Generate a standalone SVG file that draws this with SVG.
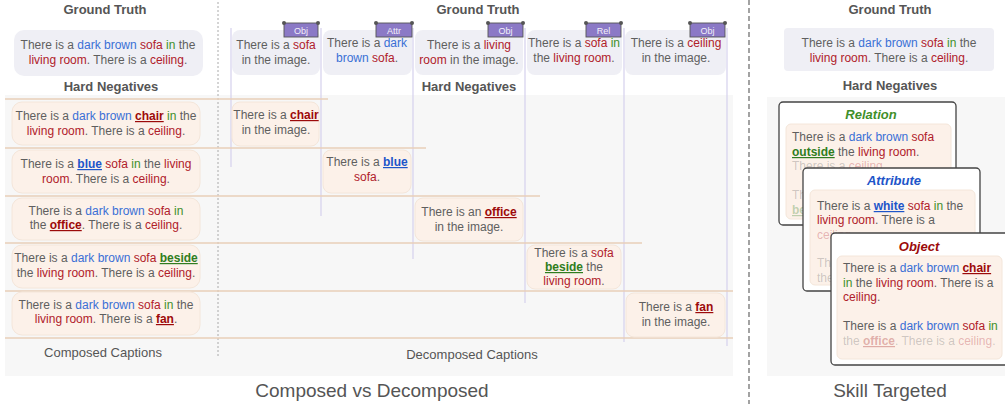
<svg xmlns="http://www.w3.org/2000/svg" width="1005" height="404" viewBox="0 0 1005 404">
<style>
.t{font-family:"Liberation Sans",Arial,sans-serif;font-size:12px;fill:#5f5f5f}
.c{text-anchor:middle}
.h{font-family:"Liberation Sans",Arial,sans-serif;font-size:13px;font-weight:bold;fill:#555;text-anchor:middle}
.lbl{font-family:"Liberation Sans",Arial,sans-serif;font-size:13px;fill:#555;text-anchor:middle}
.big{font-family:"Liberation Sans",Arial,sans-serif;font-size:19px;fill:#555;text-anchor:middle}
.b{fill:#3a6fd6}
.r{fill:#b0202a}
.g{fill:#3f8f2a}
.ur{fill:#9c0a0a;font-weight:bold;text-decoration:underline}
.ub{fill:#1d55c9;font-weight:bold;text-decoration:underline}
.ug{fill:#2f7d20;font-weight:bold;text-decoration:underline}
.fade{fill-opacity:0.3}
.gt{fill:#efeff5}
.hn{fill:#fcf1e9;stroke:#f4e6da;stroke-width:1}
.vl{stroke:#d8d4ee;stroke-width:1.3}
.hl{stroke:#e8cfb8;stroke-width:1.3}
.tag rect{fill:#8b79c6;stroke:#555;stroke-width:0.9}
.tag circle{fill:#555}
.tag text{font-family:"Liberation Sans",Arial,sans-serif;font-size:9px;fill:#f2f0fa;text-anchor:middle}
.card{fill:#fff;stroke:#444;stroke-width:1.3}
.ti{font-family:"Liberation Sans",Arial,sans-serif;font-size:13px;font-weight:bold;font-style:italic;text-anchor:middle}
</style>

<!-- backgrounds -->
<rect x="5" y="95" width="728" height="281" fill="#f7f7f7"/>
<rect x="767" y="97" width="238" height="279" fill="#f7f7f7"/>
<line x1="218" y1="2" x2="218" y2="358" stroke="#aaa" stroke-width="1" stroke-dasharray="2,2"/>
<line x1="749" y1="0" x2="749" y2="404" stroke="#666" stroke-width="1.2" stroke-dasharray="5,3"/>

<!-- connectors / grid lines -->
<g id="connectors">
<line class="vl" x1="231" y1="28" x2="231" y2="167"/>
<line class="vl" x1="321" y1="28" x2="321" y2="216"/>
<line class="vl" x1="413" y1="28" x2="413" y2="259"/>
<line class="vl" x1="525" y1="28" x2="525" y2="303"/>
<line class="vl" x1="624" y1="28" x2="624" y2="342"/>
<line class="vl" x1="727" y1="28" x2="727" y2="346"/>
<line class="hl" x1="5" y1="99" x2="328" y2="99"/>
<line class="hl" x1="5" y1="148" x2="426" y2="148"/>
<line class="hl" x1="5" y1="196" x2="540" y2="196"/>
<line class="hl" x1="5" y1="243" x2="642" y2="243"/>
<line class="hl" x1="5" y1="291" x2="733" y2="291"/>
<line class="hl" x1="5" y1="338" x2="733" y2="338"/>
</g>

<!-- Composed captions -->
<text class="h" x="105" y="14">Ground Truth</text>
<g id="composed-gt">
<rect class="gt" x="14" y="30" width="189" height="46" rx="10"/>
<text class="t c" x="108" y="49">There is a <tspan class="b">dark brown</tspan> <tspan class="r">sofa</tspan> <tspan class="g">in</tspan> the</text>
<text class="t c" x="108" y="64"><tspan class="r">living room</tspan>. There is a <tspan class="r">ceiling</tspan>.</text>
</g>
<text class="h" x="111" y="91">Hard Negatives</text>
<g id="composed-hn1">
<rect class="hn" x="12" y="102" width="188" height="43" rx="10"/>
<text class="t c" x="106" y="120">There is a <tspan class="b">dark brown</tspan> <tspan class="ur">chair</tspan> <tspan class="g">in</tspan> the</text>
<text class="t c" x="106" y="135"><tspan class="r">living room</tspan>. There is a <tspan class="r">ceiling</tspan>.</text>
</g>
<g id="composed-hn2">
<rect class="hn" x="12" y="150" width="188" height="43" rx="10"/>
<text class="t c" x="106" y="168">There is a <tspan class="ub">blue</tspan> <tspan class="r">sofa</tspan> <tspan class="g">in</tspan> the <tspan class="r">living</tspan></text>
<text class="t c" x="106" y="183"><tspan class="r">room</tspan>. There is a <tspan class="r">ceiling</tspan>.</text>
</g>
<g id="composed-hn3">
<rect class="hn" x="12" y="198" width="188" height="42" rx="10"/>
<text class="t c" x="106" y="215">There is a <tspan class="b">dark brown</tspan> <tspan class="r">sofa</tspan> <tspan class="g">in</tspan></text>
<text class="t c" x="106" y="229">the <tspan class="ur">office</tspan>. There is a <tspan class="r">ceiling</tspan>.</text>
</g>
<g id="composed-hn4">
<rect class="hn" x="12" y="245" width="188" height="43" rx="10"/>
<text class="t c" x="106" y="262">There is a <tspan class="b">dark brown</tspan> <tspan class="r">sofa</tspan> <tspan class="ug">beside</tspan></text>
<text class="t c" x="106" y="277">the <tspan class="r">living room</tspan>. There is a <tspan class="r">ceiling</tspan>.</text>
</g>
<g id="composed-hn5">
<rect class="hn" x="12" y="292" width="188" height="43" rx="10"/>
<text class="t c" x="106" y="309">There is a <tspan class="b">dark brown</tspan> <tspan class="r">sofa</tspan> <tspan class="g">in</tspan> the</text>
<text class="t c" x="106" y="323"><tspan class="r">living room</tspan>. There is a <tspan class="ur">fan</tspan>.</text>
</g>
<text class="lbl" x="103" y="357">Composed Captions</text>

<!-- Decomposed captions -->
<text class="h" x="478" y="14">Ground Truth</text>
<g id="dec-gt1">
<rect class="gt" x="232" y="30" width="88" height="45" rx="8"/>
<text class="t c" x="276" y="49">There is a <tspan class="r">sofa</tspan></text>
<text class="t c" x="276" y="64">in the image.</text>
</g>
<g id="dec-gt2">
<rect class="gt" x="323" y="30" width="89" height="45" rx="8"/>
<text class="t c" x="367" y="47">There is a <tspan class="b">dark</tspan></text>
<text class="t c" x="367" y="62"><tspan class="b">brown</tspan> <tspan class="r">sofa</tspan>.</text>
</g>
<g id="dec-gt3">
<rect class="gt" x="415" y="30" width="108" height="45" rx="8"/>
<text class="t c" x="469" y="49">There is a <tspan class="r">living</tspan></text>
<text class="t c" x="469" y="64"><tspan class="r">room</tspan> in the image.</text>
</g>
<g id="dec-gt4">
<rect class="gt" x="527" y="30" width="95" height="45" rx="8"/>
<text class="t c" x="574" y="47">There is a <tspan class="r">sofa</tspan> <tspan class="g">in</tspan></text>
<text class="t c" x="574" y="62">the <tspan class="r">living room</tspan>.</text>
</g>
<g id="dec-gt5">
<rect class="gt" x="625" y="30" width="101" height="45" rx="8"/>
<text class="t c" x="676" y="47">There is a <tspan class="r">ceiling</tspan></text>
<text class="t c" x="676" y="62">in the image.</text>
</g>
<g id="tag-obj1" class="tag"><rect x="284" y="23" width="34" height="14"/><circle cx="284" cy="23" r="2"/><circle cx="318" cy="23" r="2"/><text x="301" y="33.5">Obj</text></g>
<g id="tag-attr" class="tag"><rect x="376" y="23" width="36" height="14"/><circle cx="376" cy="23" r="2"/><circle cx="412" cy="23" r="2"/><text x="394" y="33.5">Attr</text></g>
<g id="tag-obj2" class="tag"><rect x="488" y="23" width="35" height="14"/><circle cx="488" cy="23" r="2"/><circle cx="523" cy="23" r="2"/><text x="505.5" y="33.5">Obj</text></g>
<g id="tag-rel" class="tag"><rect x="586" y="23" width="35" height="14"/><circle cx="586" cy="23" r="2"/><circle cx="621" cy="23" r="2"/><text x="603.5" y="33.5">Rel</text></g>
<g id="tag-obj3" class="tag"><rect x="690" y="23" width="35" height="14"/><circle cx="690" cy="23" r="2"/><circle cx="725" cy="23" r="2"/><text x="707.5" y="33.5">Obj</text></g>

<text class="h" x="469" y="91">Hard Negatives</text>
<g id="dec-hn1">
<rect class="hn" x="232" y="102" width="87" height="44" rx="8"/>
<text class="t c" x="276" y="119">There is a <tspan class="ur">chair</tspan></text>
<text class="t c" x="276" y="134">in the image.</text>
</g>
<g id="dec-hn2">
<rect class="hn" x="323" y="150" width="88" height="43" rx="8"/>
<text class="t c" x="367" y="166">There is a <tspan class="ub">blue</tspan></text>
<text class="t c" x="367" y="181"><tspan class="r">sofa</tspan>.</text>
</g>
<g id="dec-hn3">
<rect class="hn" x="415" y="198" width="108" height="43" rx="8"/>
<text class="t c" x="469" y="216">There is an <tspan class="ur">office</tspan></text>
<text class="t c" x="469" y="231">in the image.</text>
</g>
<g id="dec-hn4">
<rect class="hn" x="527" y="245" width="94" height="44" rx="8"/>
<text class="t c" x="574" y="257">There is a <tspan class="r">sofa</tspan></text>
<text class="t c" x="574" y="271"><tspan class="ug">beside</tspan> the</text>
<text class="t c" x="574" y="285"><tspan class="r">living room</tspan>.</text>
</g>
<g id="dec-hn5">
<rect class="hn" x="626" y="293" width="99" height="44" rx="8"/>
<text class="t c" x="676" y="311">There is a <tspan class="ur">fan</tspan></text>
<text class="t c" x="676" y="326">in the image.</text>
</g>
<text class="lbl" x="472" y="359">Decomposed Captions</text>
<text class="big" x="372" y="397">Composed vs Decomposed</text>

<!-- Skill targeted -->
<text class="h" x="890" y="14">Ground Truth</text>
<g id="skill-gt">
<rect class="gt" x="784" y="28" width="210" height="43" rx="4"/>
<text class="t c" x="889" y="47">There is a <tspan class="b">dark brown</tspan> <tspan class="r">sofa</tspan> <tspan class="g">in</tspan> the</text>
<text class="t c" x="889" y="62"><tspan class="r">living room</tspan>. There is a <tspan class="r">ceiling</tspan>.</text>
</g>
<text class="h" x="890" y="90">Hard Negatives</text>
<g id="card-relation">
<rect class="card" x="779" y="102" width="177" height="123" rx="4"/>
<text class="ti" x="871" y="119" fill="#3f8f2a">Relation</text>
<rect class="hn" x="786" y="124" width="165" height="95" rx="5"/>
<text class="t" x="792" y="141">There is a <tspan class="b">dark brown</tspan> <tspan class="r">sofa</tspan></text>
<text class="t" x="792" y="156"><tspan class="ug">outside</tspan> the <tspan class="r">living room</tspan>.</text>
<text class="t fade" x="792" y="170">There is a <tspan class="r">ceiling</tspan>.</text>
<text class="t fade" x="792" y="199">Th</text>
<text class="t fade" x="792" y="214"><tspan class="ug">be</tspan></text>
</g>
<g id="card-attribute">
<rect class="card" x="803" y="168" width="177" height="123" rx="4"/>
<text class="ti" x="894" y="185" fill="#1d55c9">Attribute</text>
<rect class="hn" x="810" y="190" width="165" height="95" rx="5"/>
<text class="t" x="817" y="210">There is a <tspan class="ub">white</tspan> <tspan class="r">sofa</tspan> <tspan class="g">in</tspan> the</text>
<text class="t" x="817" y="224"><tspan class="r">living room</tspan>. There is a</text>
<text class="t fade" x="817" y="239"><tspan class="r">ceiling</tspan>.</text>
<text class="t fade" x="817" y="267">Th</text>
<text class="t fade" x="817" y="282">the</text>
</g>
<g id="card-object">
<rect class="card" x="831" y="233" width="178" height="132" rx="4"/>
<text class="ti" x="919" y="251" fill="#9c0a0a">Object</text>
<rect class="hn" x="837" y="256" width="165" height="103" rx="5"/>
<text class="t" x="843" y="272">There is a <tspan class="b">dark brown</tspan> <tspan class="ur">chair</tspan></text>
<text class="t" x="843" y="287"><tspan class="g">in</tspan> the <tspan class="r">living room</tspan>. There is a</text>
<text class="t" x="843" y="301"><tspan class="r">ceiling</tspan>.</text>
<text class="t" x="843" y="330">There is a <tspan class="b">dark brown</tspan> <tspan class="r">sofa</tspan> <tspan class="g">in</tspan></text>
<text class="t fade" x="843" y="345">the <tspan class="ur">office</tspan>. There is a <tspan class="r">ceiling</tspan>.</text>
</g>
<text class="big" x="890" y="397">Skill Targeted</text>
</svg>
